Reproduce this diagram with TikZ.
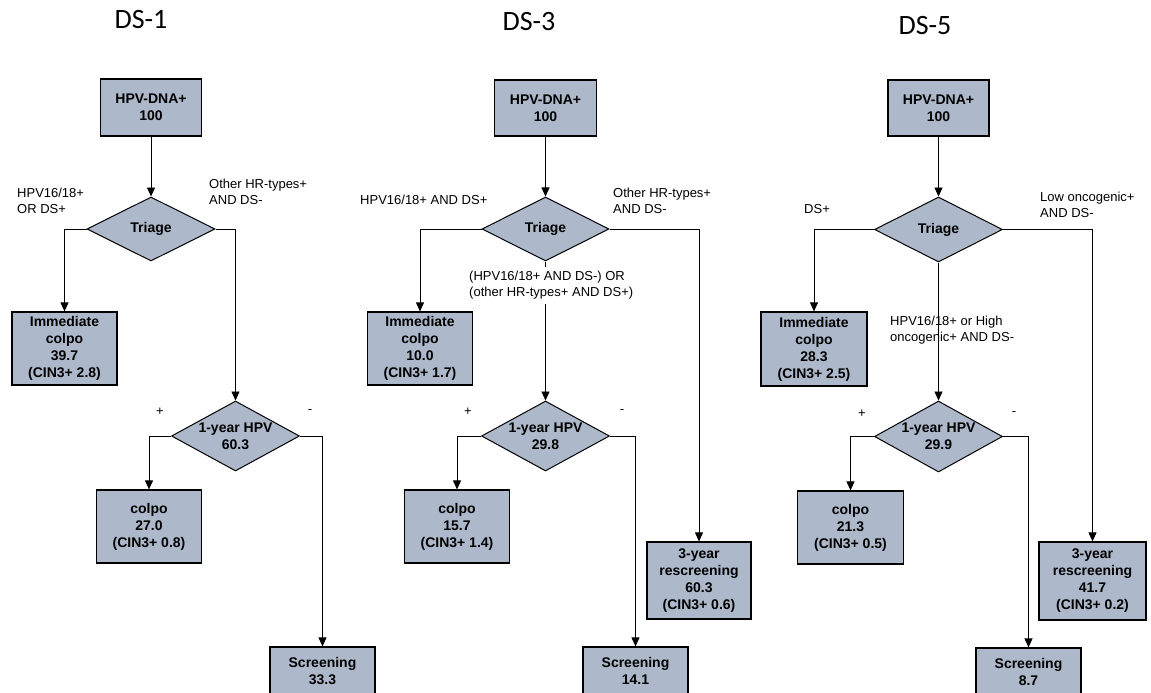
\documentclass[tikz,border=0pt]{standalone}
\usepackage{fontspec}
\setmainfont{Liberation Sans}
\newfontfamily\titlefont{Carlito}
\usetikzlibrary{shapes.geometric,arrows.meta}
\definecolor{boxfill}{RGB}{173,185,202}
\tikzset{
  box/.style={draw, fill=boxfill, line width=1.2pt, inner sep=0pt, align=center,
    font=\fontsize{14}{17}\selectfont\bfseries, minimum width=105pt},
  decision/.style={diamond, draw, fill=boxfill, line width=1pt, inner xsep=-20pt,
    inner ysep=-10pt, align=center, font=\fontsize{14}{17}\selectfont\bfseries,
    minimum width=128pt},
  cond/.style={align=left, anchor=west, inner sep=0pt, font=\fontsize{13}{16}\selectfont},
  sign/.style={inner sep=0pt, font=\fontsize{13}{16}\selectfont},
  title/.style={anchor=base, inner sep=0pt, font=\titlefont\fontsize{28}{34}\selectfont},
  link/.style={-{Triangle[width=8pt,length=9pt]}, line width=0.9pt}
}
\begin{document}
\begin{tikzpicture}[x=1pt,y=-1pt]
  \useasboundingbox (0,0) rectangle (1151,693);

  \node[title] (title1) at (141,29) {DS-1};
  \node[box, minimum width=101pt, minimum height=57pt] (hpv1) at (151,107.5) {HPV-DNA+\\100};
  \node[decision, minimum height=64pt] (triage1) at (151,229) {Triage};
  \node[box, minimum height=73pt] (immcolpo1) at (64.5,348.5) {Immediate\\colpo\\39.7\\(CIN3+ 2.8)};
  \node[decision, minimum height=70pt] (year1) at (235.5,436) {1-year HPV\\60.3};
  \node[box, minimum height=73pt] (colpo1) at (149,526.5) {colpo\\27.0\\(CIN3+ 0.8)};
  \node[box, minimum height=48pt] (screen1) at (322.5,671) {Screening\\33.3};
  \node[cond] (pos1) at (17,201) {HPV16/18+\\OR DS+};
  \node[cond] (neg1) at (209,191.5) {Other HR-types+\\AND DS-};
  \node[sign] (plus1) at (160,412) {+};
  \node[sign] (minus1) at (310,412) {-};

  \node[title] (title3) at (529,30.7) {DS-3};
  \node[box, minimum width=102pt, minimum height=56pt] (hpv3) at (545.5,108) {HPV-DNA+\\100};
  \node[decision, minimum width=127pt, minimum height=64pt] (triage3) at (545.5,229) {Triage};
  \node[box, minimum height=73pt] (immcolpo3) at (420,348.5) {Immediate\\colpo\\10.0\\(CIN3+ 1.7)};
  \node[decision, minimum height=70pt] (year3) at (545.5,436) {1-year HPV\\29.8};
  \node[box, minimum height=73pt] (colpo3) at (457,526.5) {colpo\\15.7\\(CIN3+ 1.4)};
  \node[box, minimum height=48pt] (screen3) at (635.5,671) {Screening\\14.1};
  \node[box, minimum width=104pt, minimum height=77pt] (rescreen3) at (699,580.5) {3-year\\rescreening\\60.3\\(CIN3+ 0.6)};
  \node[cond] (pos3) at (360,200) {HPV16/18+ AND DS+};
  \node[cond] (neg3) at (613,201) {Other HR-types+\\AND DS-};
  \node[sign] (plus3) at (468,412) {+};
  \node[sign] (minus3) at (622,412) {-};

  \node[title] (title5) at (925,35) {DS-5};
  \node[box, minimum width=101pt, minimum height=56pt] (hpv5) at (938.5,108) {HPV-DNA+\\100};
  \node[decision, minimum height=65pt] (triage5) at (938.5,229.5) {Triage};
  \node[box, minimum width=106pt, minimum height=74pt] (immcolpo5) at (814,349) {Immediate\\colpo\\28.3\\(CIN3+ 2.5)};
  \node[decision, minimum height=71pt] (year5) at (938.5,436.5) {1-year HPV\\29.9};
  \node[box, minimum width=106pt, minimum height=73pt] (colpo5) at (850.5,527.5) {colpo\\21.3\\(CIN3+ 0.5)};
  \node[box, minimum height=48pt] (screen5) at (1028.5,672) {Screening\\8.7};
  \node[box, minimum width=107pt, minimum height=78pt] (rescreen5) at (1092.5,581) {3-year\\rescreening\\41.7\\(CIN3+ 0.2)};
  \node[cond] (pos5) at (804,209) {DS+};
  \node[cond] (neg5) at (1040,205) {Low oncogenic+\\AND DS-};
  \node[sign] (plus5) at (862,414) {+};
  \node[sign] (minus5) at (1014,414) {-};

  \begin{scope}[link]
    \draw (hpv1) -- (triage1);
    \draw (triage1.west) -| (immcolpo1.north);
    \draw (triage1.east) -| (year1.north);
    \draw (year1.west) -| (colpo1.north);
    \draw (year1.east) -| (screen1.north);
    \draw (hpv3) -- (triage3);
    \draw (triage3.west) -| (immcolpo3.north);
    \draw (triage3.east) -| (rescreen3.north);
    \draw (triage3.south) -- (year3.north);
    \draw (year3.west) -| (colpo3.north);
    \draw (year3.east) -| (screen3.north);
    \draw (hpv5) -- (triage5);
    \draw (triage5.west) -| (immcolpo5.north);
    \draw (triage5.east) -| (rescreen5.north);
    \draw (triage5.south) -- (year5.north);
    \draw (year5.west) -| (colpo5.north);
    \draw (year5.east) -| (screen5.north);
  \end{scope}

  \node[cond, fill=white, inner ysep=4pt] (mid3) at (469,285.5) {(HPV16/18+ AND DS-) OR\\(other HR-types+ AND DS+)};
  \node[cond] (mid5) at (890,330) {HPV16/18+ or High\\oncogenic+ AND DS-};
\end{tikzpicture}
\end{document}
